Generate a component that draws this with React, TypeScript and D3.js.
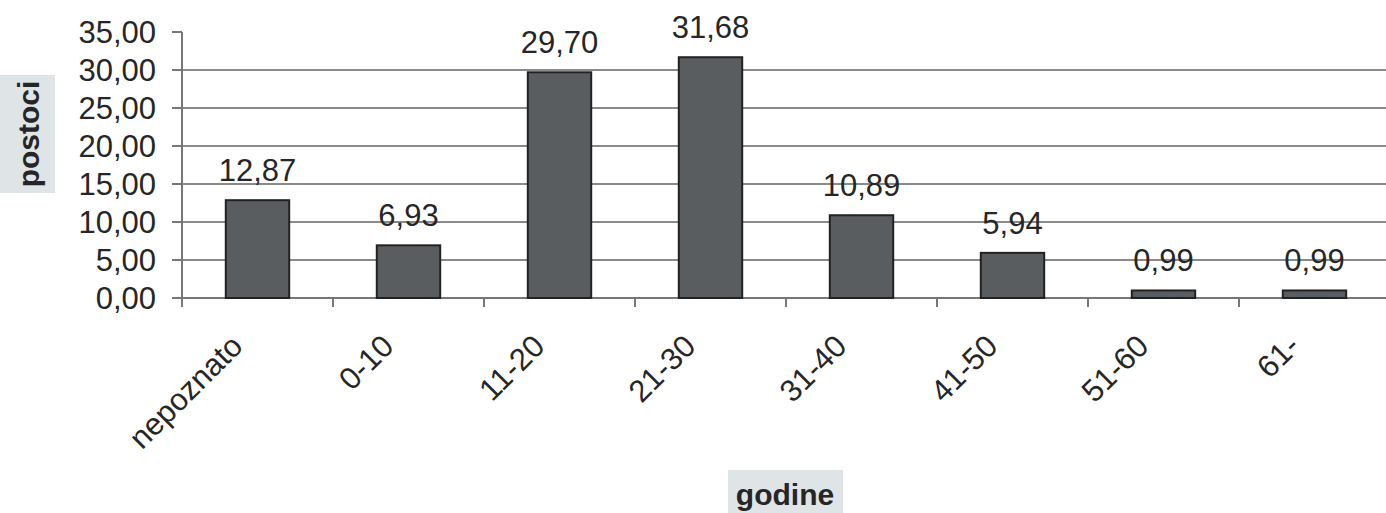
import React from 'react';
import * as d3 from 'd3';

const categories = ['nepoznato', '0-10', '11-20', '21-30', '31-40', '41-50', '51-60', '61-'];
const values = [12.87, 6.93, 29.7, 31.68, 10.89, 5.94, 0.99, 0.99];
const yTicks = [0, 5, 10, 15, 20, 25, 30, 35];
const yTitle = 'postoci';
const xTitle = 'godine';

const W = 1386;
const H = 513;
const FONT = "'Liberation Sans', Arial, sans-serif";

const fmt = (v: number) => v.toFixed(2).replace('.', ',');

const App: React.FC = () => {
  const margin = { left: 182, top: 32, bottom: 298 };
  const step = 151;

  const x = d3.scaleBand<string>()
    .domain(categories)
    .range([margin.left, margin.left + step * categories.length])
    .paddingInner(0.58)
    .paddingOuter(0.29);

  const y = d3.scaleLinear()
    .domain([0, 35])
    .range([margin.bottom, margin.top]);

  const boundaries = d3.range(categories.length + 1).map(i => margin.left + i * x.step());

  return (
    <svg
      width={W}
      height={H}
      viewBox={`0 0 ${W} ${H}`}
      style={{ position: 'fixed', left: 0, top: 0, background: '#fff' }}
      fontFamily={FONT}
    >
      {/* gridlines */}
      {yTicks.filter(t => t > 0 && t < 35).map(t => (
        <line key={`g${t}`} x1={margin.left} x2={W} y1={y(t)} y2={y(t)} stroke="#8a8a8a" strokeWidth={2} />
      ))}

      {/* y axis */}
      <line x1={margin.left} x2={margin.left} y1={y(35)} y2={y(0) + 8} stroke="#777" strokeWidth={2} />
      {yTicks.map(t => (
        <g key={`t${t}`}>
          <line x1={margin.left - 10} x2={margin.left} y1={y(t)} y2={y(t)} stroke="#777" strokeWidth={2} />
          <text x={156} y={y(t)} dy="0.36em" textAnchor="end" fontSize={31} fill="#262626">
            {fmt(t)}
          </text>
        </g>
      ))}

      {/* x axis */}
      <line x1={margin.left} x2={W} y1={y(0)} y2={y(0)} stroke="#777" strokeWidth={2} />
      {boundaries.map((b, i) => (
        <line key={`b${i}`} x1={b} x2={b} y1={y(0)} y2={y(0) + 9} stroke="#777" strokeWidth={2} />
      ))}

      {/* bars */}
      {categories.map((c, i) => (
        <g key={c}>
          <rect
            x={x(c)}
            y={y(values[i])}
            width={x.bandwidth()}
            height={y(0) - y(values[i])}
            fill="#5a5d5f"
            stroke="#222"
            strokeWidth={2}
          />
          <text
            x={(x(c) || 0) + x.bandwidth() / 2}
            y={y(values[i]) - 19}
            textAnchor="middle"
            fontSize={31}
            fill="#262626"
          >
            {fmt(values[i])}
          </text>
          <text
            transform={`translate(${(x(c) || 0) + x.bandwidth() / 2 - 13},${y(0) + 50}) rotate(-45)`}
            textAnchor="end"
            fontSize={31}
            fill="#262626"
          >
            {c}
          </text>
        </g>
      ))}

      {/* y title */}
      <rect x={0} y={75} width={55} height={118} fill="#dfe4e6" />
      <text
        transform="translate(39,134) rotate(-90)"
        textAnchor="middle"
        fontSize={30}
        fontWeight="bold"
        fill="#262626"
      >
        {yTitle}
      </text>

      {/* x title */}
      <rect x={728} y={470} width={115} height={43} fill="#dfe4e6" />
      <text x={785} y={505} textAnchor="middle" fontSize={30} fontWeight="bold" fill="#262626">
        {xTitle}
      </text>
    </svg>
  );
};

export default App;
